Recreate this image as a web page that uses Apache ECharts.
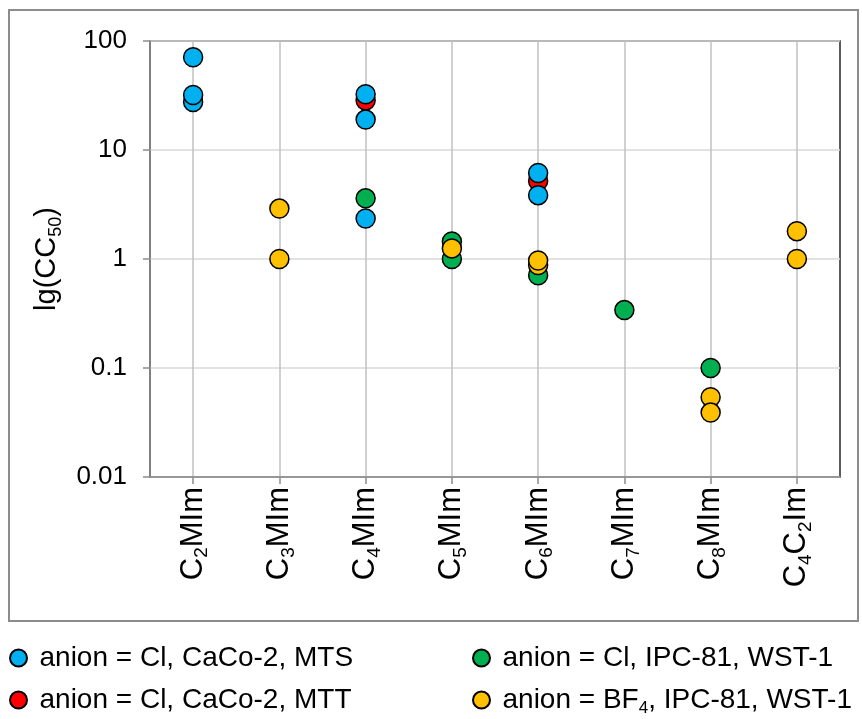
<!DOCTYPE html>
<html><head><meta charset="utf-8">
<script src="https://cdn.jsdelivr.net/npm/echarts@6/dist/echarts.min.js"></script>
<style>html,body{margin:0;padding:0;background:#fff}#c{width:862px;height:719px}</style>
</head><body><div id="c"></div>
<script>
const categories = ['C2MIm','C3MIm','C4MIm','C5MIm','C6MIm','C7MIm','C8MIm','C4C2Im'];
const yTickLabels = ['0.01','0.1','1','10','100'];
const yAxisTitle = 'lg(CC50)';
const nameBlue = 'anion = Cl, CaCo-2, MTS';
const nameRed = 'anion = Cl, CaCo-2, MTT';
const nameGreen = 'anion = Cl, IPC-81, WST-1';
const nameYellow = 'anion = BF4, IPC-81, WST-1';

const blueX = ['C2MIm','C2MIm','C2MIm','C4MIm','C4MIm','C4MIm','C6MIm','C6MIm'];
const blueY = [71, 27.5, 32, 32.5, 19, 2.35, 6.15, 3.85];
const redX = ['C4MIm','C6MIm'];
const redY = [28.5, 5.2];
const greenX = ['C4MIm','C5MIm','C5MIm','C6MIm','C7MIm','C8MIm'];
const greenY = [3.6, 1.45, 1.0, 0.71, 0.34, 0.10];
const yellowX = ['C3MIm','C3MIm','C5MIm','C6MIm','C6MIm','C8MIm','C8MIm','C4C2Im','C4C2Im'];
const yellowY = [2.9, 1.0, 1.25, 0.88, 0.97, 0.054, 0.039, 1.8, 1.0];

const FONT = 'Liberation Sans, Arial, sans-serif';
const zip = (xs, ys) => xs.map((x, i) => [x, ys[i]]);
// wrap digits as subscript tokens, other text as main tokens
const subDigits = s => s.split(/(\d+)/).filter(p => p.length).map(p => /^\d+$/.test(p) ? '{s|' + p + '}' : '{m|' + p + '}').join('');
const richFor = (main, sub, drop) => ({
  m: { fontFamily: FONT, fontSize: main, lineHeight: main, verticalAlign: 'top', color: '#000' },
  s: { fontFamily: FONT, fontSize: sub, lineHeight: sub, verticalAlign: 'top', padding: [drop, 0, 0, 0], color: '#000' }
});

function scatter(name, color, xs, ys, z) {
  return {
    name, type: 'scatter', z,
    symbol: 'circle', symbolSize: 19,
    itemStyle: { color, borderColor: '#000', borderWidth: 1.5, opacity: 1 },
    data: zip(xs, ys)
  };
}
function legendItem(name, left, top) {
  return {
    left, top, orient: 'horizontal', padding: 0,
    icon: 'circle', itemWidth: 32, itemHeight: 17,
    data: [name],
    textStyle: { fontFamily: FONT, fontSize: 28, color: '#000', rich: richFor(28, 17, 14) },
    formatter: n => subDigits(n.replace(/CaCo-2/, 'CaCo-§').replace(/IPC-81/, 'IPC-¤').replace(/WST-1/, 'WST-¢'))
      .replace(/§/g, '2').replace(/¤/g, '81').replace(/¢/g, '1')
  };
}

const chart = echarts.init(document.getElementById('c'), null, { renderer: 'canvas' });
chart.setOption({
  animation: false,
  backgroundColor: '#fff',
  graphic: [{
    type: 'rect', z: -10, silent: true,
    shape: { x: 9, y: 10, width: 849, height: 611 },
    style: { fill: 'none', stroke: '#8c8c8c', lineWidth: 2 }
  }],
  grid: { left: 150, top: 41, width: 690, height: 436, show: true, borderColor: '#262626', borderWidth: 1.5, backgroundColor: 'transparent' },
  xAxis: {
    type: 'category', data: categories, boundaryGap: true,
    axisLine: { lineStyle: { color: '#8c8c8c', width: 1.5 } },
    axisTick: { show: true, alignWithLabel: true, length: 7, lineStyle: { color: '#8c8c8c', width: 1.5 } },
    splitLine: { show: true, alignWithLabel: true, lineStyle: { color: '#c0c0c0', width: 1.5 } },
    axisLabel: {
      rotate: 90, margin: 10, interval: 0,
      fontFamily: FONT, fontSize: 31, color: '#000',
      formatter: v => subDigits(v),
      rich: richFor(31, 19, 15)
    }
  },
  yAxis: {
    type: 'log', logBase: 10, min: 0.01, max: 100,
    name: subDigits(yAxisTitle), nameLocation: 'middle', nameRotate: 90, nameGap: 64,
    nameTextStyle: { fontFamily: FONT, fontSize: 29, color: '#000', rich: richFor(29, 18, 15) },
    axisLine: { show: true, lineStyle: { color: '#8c8c8c', width: 1.5 } },
    axisTick: { show: true, length: 7, lineStyle: { color: '#8c8c8c', width: 1.5 } },
    minorTick: { show: false },
    splitLine: { show: true, lineStyle: { color: '#d9d9d9', width: 1.5 } },
    axisLabel: {
      margin: 23, fontFamily: FONT, fontSize: 26, color: '#000',
      formatter: v => yTickLabels[Math.round(Math.log10(v)) + 2]
    }
  },
  legend: [
    legendItem(nameBlue, 9, 644),
    legendItem(nameRed, 9, 686),
    legendItem(nameGreen, 472, 644),
    legendItem(nameYellow, 472, 686)
  ],
  series: [
    scatter(nameRed, '#FF0000', redX, redY, 2),
    scatter(nameBlue, '#00B0F0', blueX, blueY, 3),
    scatter(nameGreen, '#00B050', greenX, greenY, 4),
    scatter(nameYellow, '#FFC000', yellowX, yellowY, 5)
  ]
});
</script></body></html>
